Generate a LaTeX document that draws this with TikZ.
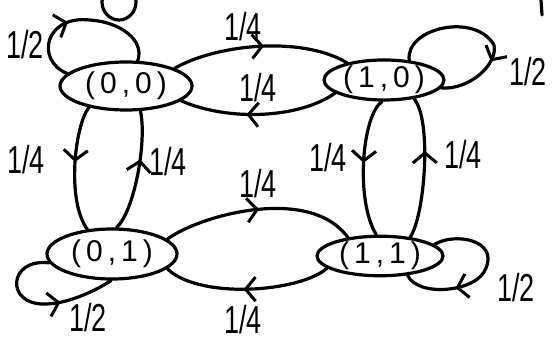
\documentclass[tikz,border=0pt]{standalone}
\usepackage{fontspec}
\setmainfont{Liberation Sans}
\usetikzlibrary{shapes.geometric,arrows.meta,decorations.markings}
\newcommand{\hw}[1]{\scalebox{0.9}[1.3]{#1}}
\begin{document}
\begin{tikzpicture}[x=1pt,y=-1pt,
  line width=3.2pt, line cap=round, line join=round,
  st/.style={draw, ellipse, inner sep=0pt, font=\fontsize{30}{30}\selectfont},
  lbl/.style={font=\fontsize{30}{30}\selectfont, inner sep=0pt},
  midarrow/.style={postaction={decorate}, decoration={markings,
    mark=at position #1 with {\arrow{Straight Barb[length=10pt,width=24pt,line width=3pt]}}}},
  midarrow/.default=0.5]
\useasboundingbox (0,0) rectangle (552,344);
\clip (0,0) rectangle (552,344);

% states
\node[st, minimum width=132pt, minimum height=48pt] (n00) at (126,86) {(\,0\,,\,0\,)};
\node[st, minimum width=120pt, minimum height=40pt] (n10) at (384,80) {(\,1\,,\,0\,)};
\node[st, minimum width=130pt, minimum height=50pt] (n01) at (112,254) {(\,0\,,\,1\,)};
\node[st, minimum width=126pt, minimum height=38pt] (n11) at (380,256) {(\,1\,,\,1\,)};

% horizontal transitions, top row
\draw[midarrow=0.52] (n00.20) .. controls (215,45) and (300,35) .. (n10.155);
\draw[midarrow=0.58] (n10.-165) .. controls (300,118) and (230,122) .. (n00.-15);
% horizontal transitions, bottom row
\draw[midarrow=0.5] (n01.15) .. controls (200,215) and (310,185) .. (n11.150);
\draw[midarrow=0.52] (n11.-167) .. controls (300,292) and (200,300) .. (n01.-15);
% vertical transitions, left column
\draw[midarrow=0.45] (n00.-150) .. controls (75,125) and (66,200) .. (n01.135);
\draw[midarrow=0.6] (n01.80) .. controls (135,210) and (147,140) .. (n00.-60);
% vertical transitions, right column
\draw[midarrow=0.47] (n10.-95) .. controls (362,115) and (355,200) .. (n11.100);
\draw[midarrow=0.62] (n11.32) .. controls (425,215) and (432,120) .. (n10.-32);

% self loops
\draw[midarrow=0.42] (n00.168) .. controls (35,60) and (45,15) .. (90,20)
      .. controls (120,22) and (145,40) .. (n00.65);
\draw[midarrow=0.68] (n10.38) .. controls (405,28) and (475,12) .. (494,45)
      .. controls (498,64) and (470,90) .. (n10.-8);
\draw[midarrow=0.64] (n01.-172) .. controls (8,258) and (5,305) .. (45,304)
      .. controls (70,304) and (100,288) .. (n01.-92);
\draw[midarrow=0.68] (n11.12) .. controls (455,232) and (498,240) .. (486,268)
      .. controls (478,292) and (418,298) .. (n11.-35);

% stray strokes
\draw (119,2) ellipse (17pt and 18pt);
\draw (541,0) -- (542,15);

% labels
\node[lbl] (l1) at (243,27) {\hw{1/4}};
\node[lbl] (l2) at (258,88) {\hw{1/4}};
\node[lbl] (l3) at (26,160) {\hw{1/4}};
\node[lbl] (l4) at (168,162) {\hw{1/4}};
\node[lbl] (l5) at (328,158) {\hw{1/4}};
\node[lbl] (l6) at (463,155) {\hw{1/4}};
\node[lbl] (l7) at (258,184) {\hw{1/4}};
\node[lbl] (l8) at (243,320) {\hw{1/4}};
\node[lbl] (l9) at (25,45) {\hw{1/2}};
\node[lbl] (l10) at (528,72) {\hw{1/2}};
\node[lbl] (l11) at (88,318) {\hw{1/2}};
\node[lbl] (l12) at (516,288) {\hw{1/2}};
\end{tikzpicture}
\end{document}
